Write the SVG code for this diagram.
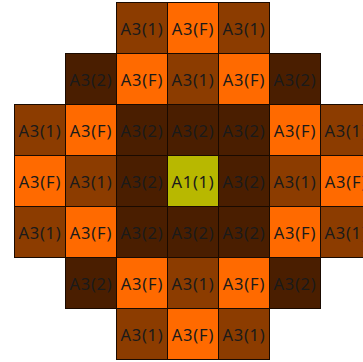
<svg xmlns="http://www.w3.org/2000/svg" width="363" height="362" viewBox="0 0 363 362">
<style>
.cell rect{stroke:#1a0a00;stroke-width:1}
.f{fill:#ff6a00}
.a1{fill:#8c3c00}
.a2{fill:#4a1e00}
.c{fill:#b8b800}
text{font-family:"Noto Sans","Open Sans","DejaVu Sans",sans-serif;font-size:16.5px;letter-spacing:0.7px;fill:#1a1a1a;text-anchor:middle;dominant-baseline:central}
</style>
<g class="cell" id="r0c2"><rect class="a1" x="116.5" y="2.5" width="51" height="51"/><text x="142" y="28">A3(1)</text></g>
<g class="cell" id="r0c3"><rect class="f" x="167.5" y="2.5" width="51" height="51"/><text x="193" y="28">A3(F)</text></g>
<g class="cell" id="r0c4"><rect class="a1" x="218.5" y="2.5" width="51" height="51"/><text x="244" y="28">A3(1)</text></g>
<g class="cell" id="r1c1"><rect class="a2" x="65.5" y="53.5" width="51" height="51"/><text x="91" y="79">A3(2)</text></g>
<g class="cell" id="r1c2"><rect class="f" x="116.5" y="53.5" width="51" height="51"/><text x="142" y="79">A3(F)</text></g>
<g class="cell" id="r1c3"><rect class="a1" x="167.5" y="53.5" width="51" height="51"/><text x="193" y="79">A3(1)</text></g>
<g class="cell" id="r1c4"><rect class="f" x="218.5" y="53.5" width="51" height="51"/><text x="244" y="79">A3(F)</text></g>
<g class="cell" id="r1c5"><rect class="a2" x="269.5" y="53.5" width="51" height="51"/><text x="295" y="79">A3(2)</text></g>
<g class="cell" id="r2c0"><rect class="a1" x="14.5" y="104.5" width="51" height="51"/><text x="40" y="130">A3(1)</text></g>
<g class="cell" id="r2c1"><rect class="f" x="65.5" y="104.5" width="51" height="51"/><text x="91" y="130">A3(F)</text></g>
<g class="cell" id="r2c2"><rect class="a2" x="116.5" y="104.5" width="51" height="51"/><text x="142" y="130">A3(2)</text></g>
<g class="cell" id="r2c3"><rect class="a2" x="167.5" y="104.5" width="51" height="51"/><text x="193" y="130">A3(2)</text></g>
<g class="cell" id="r2c4"><rect class="a2" x="218.5" y="104.5" width="51" height="51"/><text x="244" y="130">A3(2)</text></g>
<g class="cell" id="r2c5"><rect class="f" x="269.5" y="104.5" width="51" height="51"/><text x="295" y="130">A3(F)</text></g>
<g class="cell" id="r2c6"><rect class="a1" x="320.5" y="104.5" width="51" height="51"/><text x="346" y="130">A3(1)</text></g>
<g class="cell" id="r3c0"><rect class="f" x="14.5" y="155.5" width="51" height="51"/><text x="40" y="181">A3(F)</text></g>
<g class="cell" id="r3c1"><rect class="a1" x="65.5" y="155.5" width="51" height="51"/><text x="91" y="181">A3(1)</text></g>
<g class="cell" id="r3c2"><rect class="a2" x="116.5" y="155.5" width="51" height="51"/><text x="142" y="181">A3(2)</text></g>
<g class="cell" id="r3c3"><rect class="c" x="167.5" y="155.5" width="51" height="51"/><text x="193" y="181">A1(1)</text></g>
<g class="cell" id="r3c4"><rect class="a2" x="218.5" y="155.5" width="51" height="51"/><text x="244" y="181">A3(2)</text></g>
<g class="cell" id="r3c5"><rect class="a1" x="269.5" y="155.5" width="51" height="51"/><text x="295" y="181">A3(1)</text></g>
<g class="cell" id="r3c6"><rect class="f" x="320.5" y="155.5" width="51" height="51"/><text x="346" y="181">A3(F)</text></g>
<g class="cell" id="r4c0"><rect class="a1" x="14.5" y="206.5" width="51" height="51"/><text x="40" y="232">A3(1)</text></g>
<g class="cell" id="r4c1"><rect class="f" x="65.5" y="206.5" width="51" height="51"/><text x="91" y="232">A3(F)</text></g>
<g class="cell" id="r4c2"><rect class="a2" x="116.5" y="206.5" width="51" height="51"/><text x="142" y="232">A3(2)</text></g>
<g class="cell" id="r4c3"><rect class="a2" x="167.5" y="206.5" width="51" height="51"/><text x="193" y="232">A3(2)</text></g>
<g class="cell" id="r4c4"><rect class="a2" x="218.5" y="206.5" width="51" height="51"/><text x="244" y="232">A3(2)</text></g>
<g class="cell" id="r4c5"><rect class="f" x="269.5" y="206.5" width="51" height="51"/><text x="295" y="232">A3(F)</text></g>
<g class="cell" id="r4c6"><rect class="a1" x="320.5" y="206.5" width="51" height="51"/><text x="346" y="232">A3(1)</text></g>
<g class="cell" id="r5c1"><rect class="a2" x="65.5" y="257.5" width="51" height="51"/><text x="91" y="283">A3(2)</text></g>
<g class="cell" id="r5c2"><rect class="f" x="116.5" y="257.5" width="51" height="51"/><text x="142" y="283">A3(F)</text></g>
<g class="cell" id="r5c3"><rect class="a1" x="167.5" y="257.5" width="51" height="51"/><text x="193" y="283">A3(1)</text></g>
<g class="cell" id="r5c4"><rect class="f" x="218.5" y="257.5" width="51" height="51"/><text x="244" y="283">A3(F)</text></g>
<g class="cell" id="r5c5"><rect class="a2" x="269.5" y="257.5" width="51" height="51"/><text x="295" y="283">A3(2)</text></g>
<g class="cell" id="r6c2"><rect class="a1" x="116.5" y="308.5" width="51" height="51"/><text x="142" y="334">A3(1)</text></g>
<g class="cell" id="r6c3"><rect class="f" x="167.5" y="308.5" width="51" height="51"/><text x="193" y="334">A3(F)</text></g>
<g class="cell" id="r6c4"><rect class="a1" x="218.5" y="308.5" width="51" height="51"/><text x="244" y="334">A3(1)</text></g>
<g id="connectors"></g>
</svg>
